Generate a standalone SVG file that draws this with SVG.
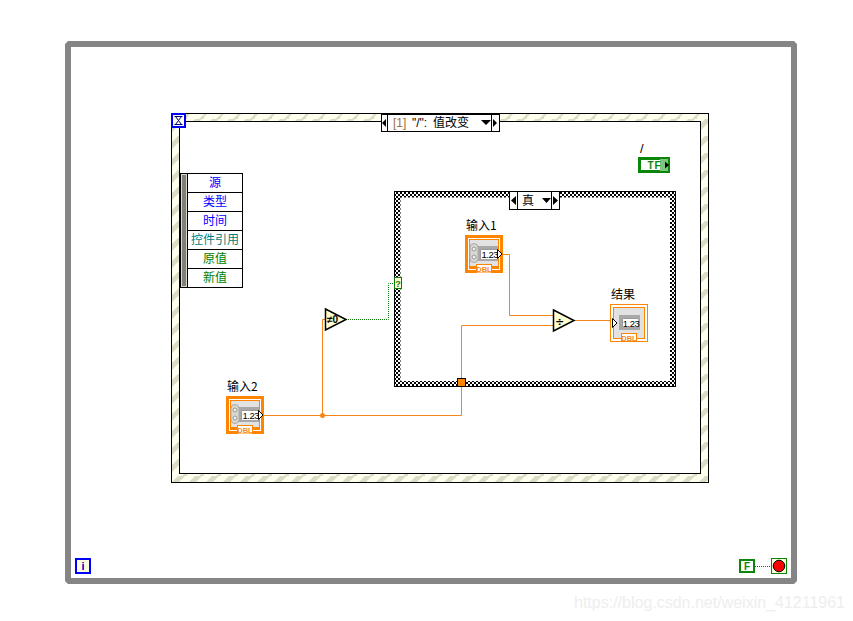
<svg xmlns="http://www.w3.org/2000/svg" xmlns:xlink="http://www.w3.org/1999/xlink" width="853" height="621" viewBox="0 0 853 621">
<style>
text{font-family:"Liberation Sans","Noto Sans CJK SC",sans-serif;font-size:12px;fill:#000}
.cjk{font-family:"Noto Sans CJK SC","Liberation Sans",sans-serif}
.c{text-anchor:middle}
.w{fill:none;stroke:#f58516;stroke-width:1}
.b{fill:none;stroke:#0a7a0a;stroke-width:1;stroke-dasharray:1 1}
.k{fill:none;stroke:#000;stroke-width:1}
.row{fill:#fff;stroke:#000;stroke-width:1}
.fn{fill:#ffffd2;stroke:#000;stroke-width:1.5}
.or{fill:#ff8500}
.num{font-size:9.5px;letter-spacing:-0.5px}
.dbl{font-size:7.5px;font-weight:bold;fill:#f48a1e}
</style>
<defs>
<pattern id="stripe" width="17" height="17" patternUnits="userSpaceOnUse">
<rect width="17" height="17" fill="#fffff0"/>
<path d="M-2 10L10 -2H17L-2 17ZM10 19L19 10V17L17 19Z" fill="#dcdcc4"/>
</pattern>
<pattern id="check" width="4" height="4" patternUnits="userSpaceOnUse">
<rect width="4" height="4" fill="#fff"/>
<path d="M0 0h2v2H0zM2 2h2v2H2z" fill="#000"/>
</pattern>
<g id="numCtl">
<rect x="0" y="0" width="38" height="38" class="or"/>
<rect x="3" y="3" width="32" height="32" fill="#fff"/>
<rect x="4" y="4" width="30" height="30" class="or"/>
<rect x="5" y="5" width="28" height="26" fill="#e2e2e2"/>
<rect x="12" y="11" width="21" height="15" fill="#a8a8a8"/>
<rect x="5" y="8.500" width="8" height="19" rx="4" fill="#d8d8d0" stroke="#aaa"/>
<circle cx="9" cy="14" r="2" fill="#eee" stroke="#999"/>
<circle cx="9" cy="22" r="2" fill="#eee" stroke="#999"/>
<rect x="15" y="14" width="18" height="10" fill="#fff"/>
<path d="M15.500 24V14.500H33" fill="none" stroke="#555" stroke-width="0.6"/>
<text x="16.500" y="22.500" class="num">1.23</text>
<path d="M32.500 14.500L37 19L32.500 23.500Z" fill="#fff" stroke="#000"/>
<rect x="11" y="29" width="16" height="9" fill="#ff8500"/>
<rect x="12" y="30" width="14" height="7.500" fill="#fff"/>
<text x="19" y="37" class="c dbl">DBL</text>
</g>
<g id="numInd">
<rect x="0.500" y="0.500" width="37" height="37" fill="#fff" stroke="#ff8500"/>
<rect x="3.500" y="3.500" width="31" height="31" fill="#e2e2e2" stroke="#ff8500"/>
<rect x="9" y="11" width="21" height="15" fill="#a8a8a8"/>
<rect x="12" y="14" width="16" height="9" fill="#fff"/>
<path d="M12.500 23V14.500H28" fill="none" stroke="#555" stroke-width="0.6"/>
<text x="12.800" y="22.500" class="num">1.23</text>
<path d="M2.500 14.500L7 19L2.500 23.500Z" fill="#fff" stroke="#000"/>
<rect x="11" y="29" width="16" height="9" fill="#ff8500"/>
<rect x="12" y="30" width="14" height="7" fill="#fff"/>
<text x="19" y="37" class="c dbl">DBL</text>
</g>
</defs>
<rect width="853" height="621" fill="#fff"/>
<g id="while-loop">
<path d="M68 44H794V581H68Z" fill="none" stroke="#858585" stroke-width="6" stroke-linejoin="bevel"/>
</g>
<g id="event-structure">
<rect x="171.500" y="113.500" width="537" height="369" fill="url(#stripe)" stroke="#000"/>
<rect x="179.500" y="121.500" width="521" height="352" fill="#fff" stroke="#000"/>
<rect x="172" y="114" width="13" height="13" fill="#fffff0" stroke="#0000ff" stroke-width="2"/>
<path d="M174.500 116.500h8M174.500 124.500h8M175.500 116.500L181.500 124.500M181.500 116.500L175.500 124.500" stroke="#000080" fill="none"/>
<rect x="381.500" y="114.500" width="118" height="17" fill="#fff" stroke="#000"/>
<path d="M387.500 114.500V131.500M491.500 114.500V131.500" class="k"/>
<path d="M386 119V127L382 123Z M493 119V127L497 123Z M481 120H491L486 125Z" fill="#000"/>
<text x="393" y="127" style="fill:#a0703a">[1]</text>
<text x="412" y="127">"/":</text>
<text x="433" y="127" class="cjk">值改变</text>
</g>
<g id="event-data">
<rect x="180.500" y="173.500" width="7" height="114" fill="#d8d8d0" stroke="#000"/>
<rect x="182" y="175" width="4" height="111" fill="#808078"/>
<rect x="187.500" y="173.500" width="55" height="19" class="row"/>
<rect x="187.500" y="192.500" width="55" height="19" class="row"/>
<rect x="187.500" y="211.500" width="55" height="19" class="row"/>
<rect x="187.500" y="230.500" width="55" height="19" class="row"/>
<rect x="187.500" y="249.500" width="55" height="19" class="row"/>
<rect x="187.500" y="268.500" width="55" height="19" class="row"/>
<text x="215" y="187" class="c cjk" style="fill:#0000ff">源</text>
<text x="215" y="206" class="c cjk" style="fill:#0000ff">类型</text>
<text x="215" y="225" class="c cjk" style="fill:#0000ff">时间</text>
<text x="215" y="244" class="c cjk" style="fill:#008080">控件引用</text>
<text x="215" y="263" class="c cjk" style="fill:#008000">原值</text>
<text x="215" y="282" class="c cjk" style="fill:#008000">新值</text>
</g>
<g id="case-structure">
<rect x="394.500" y="191.500" width="281" height="195" fill="url(#check)" stroke="#000"/>
<rect x="400.500" y="197.500" width="269.500" height="183.500" fill="#fff"/>
<rect x="509.500" y="191.500" width="50" height="18" fill="#fff" stroke="#000"/>
<path d="M517.500 191.500V209.500M551.500 191.500V209.500" class="k"/>
<path d="M516 196V205L511 200.500Z M553 196V205L558 200.500Z M542 198H551L546.500 203Z" fill="#000"/>
<text x="528" y="205" class="c cjk">真</text>
</g>
<g id="connectors">
<path d="M503 254.500H509.500V315.500H553" class="w"/>
<path d="M264 415.500H461.500V325.500H553" class="w"/>
<path d="M322.500 415.500V319.500H326" class="w"/>
<circle cx="322.500" cy="415.500" r="2.500" fill="#f58516"/>
<path d="M574 320.500H611" class="w"/>
<path d="M346 319.500H388.500V283.500H394" class="b"/>
<path d="M755 566.500H771" class="b"/>
</g>
<g id="tunnel">
<rect x="457.500" y="378.500" width="8" height="8" fill="#ff8500" stroke="#000"/>
</g>
<g id="input1">
<text x="466" y="230" class="cjk">输入1</text>
<use xlink:href="#numCtl" x="465" y="235"/>
</g>
<g id="input2">
<text x="227" y="391" class="cjk">输入2</text>
<use xlink:href="#numCtl" x="226" y="396"/>
</g>
<g id="result">
<text x="611" y="299" class="cjk">结果</text>
<use xlink:href="#numInd" x="610" y="304"/>
</g>
<g id="divide">
<path d="M553.500 310L574 320.500L553.500 331Z" class="fn"/>
<text x="559.500" y="324.500" class="c" style="font-family:'DejaVu Sans',sans-serif;font-weight:bold;font-size:11px">÷</text>
</g>
<g id="not-zero">
<path d="M325.500 309L346 319.500L325.500 330Z" class="fn"/>
<text x="332.500" y="323" class="c" style="font-family:'Liberation Sans',sans-serif;font-weight:bold;font-size:10px">≠0</text>
</g>
<g id="selector">
<rect x="394.500" y="277.500" width="7" height="11" fill="#ffffd2" stroke="#0a7a0a"/>
<text x="398" y="287" class="c" style="font-size:9px;font-weight:bold;fill:#0a7a0a">?</text>
</g>
<g id="bool-ctl">
<text x="640" y="153" style="font-size:13px">/</text>
<rect x="638" y="157" width="32" height="16" fill="#0a860a"/>
<rect x="641" y="160" width="26" height="10" fill="#fff"/>
<rect x="660" y="159" width="8" height="12" fill="#7fc47f"/>
<text x="654.500" y="169" class="c" style="font-size:10px;font-weight:bold;fill:#0a860a;letter-spacing:1px">TF</text>
<path d="M665 161.500L669 165L665 168.500Z" fill="#000"/>
</g>
<g id="iteration">
<rect x="76" y="559" width="14" height="14" fill="#ffffe0" stroke="#0000ff" stroke-width="2"/>
<text x="83" y="570" class="c" style="font-size:11px;font-weight:bold;fill:#0000c0">i</text>
</g>
<g id="false-const">
<rect x="740" y="560" width="14" height="12" fill="#fff" stroke="#0a860a" stroke-width="2"/>
<text x="747" y="570" class="c" style="font-size:10px;font-weight:bold;fill:#0a860a">F</text>
</g>
<g id="stop">
<rect x="771.500" y="558.500" width="15" height="15" fill="#ffffd8" stroke="#0a860a"/>
<circle cx="779" cy="566" r="5.800" fill="#ff0000" stroke="#000"/>
</g>
<text x="574" y="608" style="font-size:16px;fill:#eeeeee">https://blog.csdn.net/weixin_41211961</text>
</svg>
